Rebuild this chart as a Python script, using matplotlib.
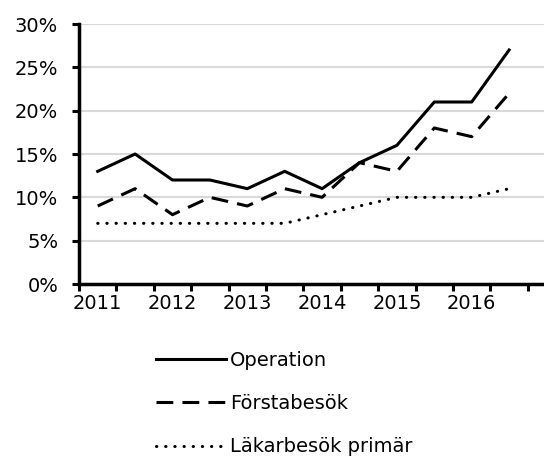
import numpy as np
import matplotlib.pyplot as plt
from matplotlib.ticker import FuncFormatter

periods = ["2011", "", "2012", "", "2013", "", "2014", "", "2015", "", "2016", ""]
operation = [13, 15, 12, 12, 11, 13, 11, 14, 16, 21, 21, 27]
forstabesok = [9, 11, 8, 10, 9, 11, 10, 14, 13, 18, 17, 22]
lakarbesok = [7, 7, 7, 7, 7, 7, 8, 9, 10, 10, 10, 11]

plt.rcParams["font.family"] = ["Verdana", "DejaVu Sans"]
plt.rcParams["font.size"] = 14

fig = plt.figure(figsize=(5.44, 4.57), dpi=100)
ax = fig.add_axes([79 / 544, 1 - 284 / 457, 1 - 79 / 544, (284 - 24) / 457])

x = np.arange(len(periods))
l1, = ax.plot(x, operation, color="black", lw=2.2, label="Operation")
l2, = ax.plot(x, forstabesok, color="black", lw=2.2, ls=(0, (5.5, 3)), label="Förstabesök")
l3, = ax.plot(x, lakarbesok, color="black", lw=2.2, ls=(0, (0.1, 2.9)),
              dash_capstyle="round", label="Läkarbesök primär")

ax.set_ylim(0, 30)
ax.set_yticks(range(0, 31, 5))
ax.yaxis.set_major_formatter(FuncFormatter(lambda v, p: f"{int(v)}%"))
ax.set_xlim(-0.5, (544 - 79) / 37.4 - 0.5)

# ticks at category boundaries, labels at every other category
ax.set_xticks(np.arange(-0.5, 12, 1))
ax.set_xticklabels([])
ax.set_xticks(x[::2], minor=True)
ax.set_xticklabels(periods[::2], minor=True)
ax.tick_params(axis="x", which="major", length=5, width=2.2, direction="out")
ax.tick_params(axis="x", which="minor", length=0, pad=7)
ax.tick_params(axis="y", length=5, width=2.2, direction="out", pad=10)

ax.grid(axis="y", color="#d9d9d9", lw=1.5)
ax.set_axisbelow(True)
for s in ["top", "right"]:
    ax.spines[s].set_visible(False)
ax.spines["left"].set_linewidth(2.5)
ax.spines["bottom"].set_linewidth(2.5)

fig.legend(handles=[l1, l2, l3], loc="upper left", bbox_to_anchor=(148 / 544, 1 - 343 / 457),
           frameon=False, handlelength=3.6, handletextpad=0.2, labelspacing=1.25,
           borderaxespad=0, fontsize=14)

fig.savefig("out.png", dpi=100)
